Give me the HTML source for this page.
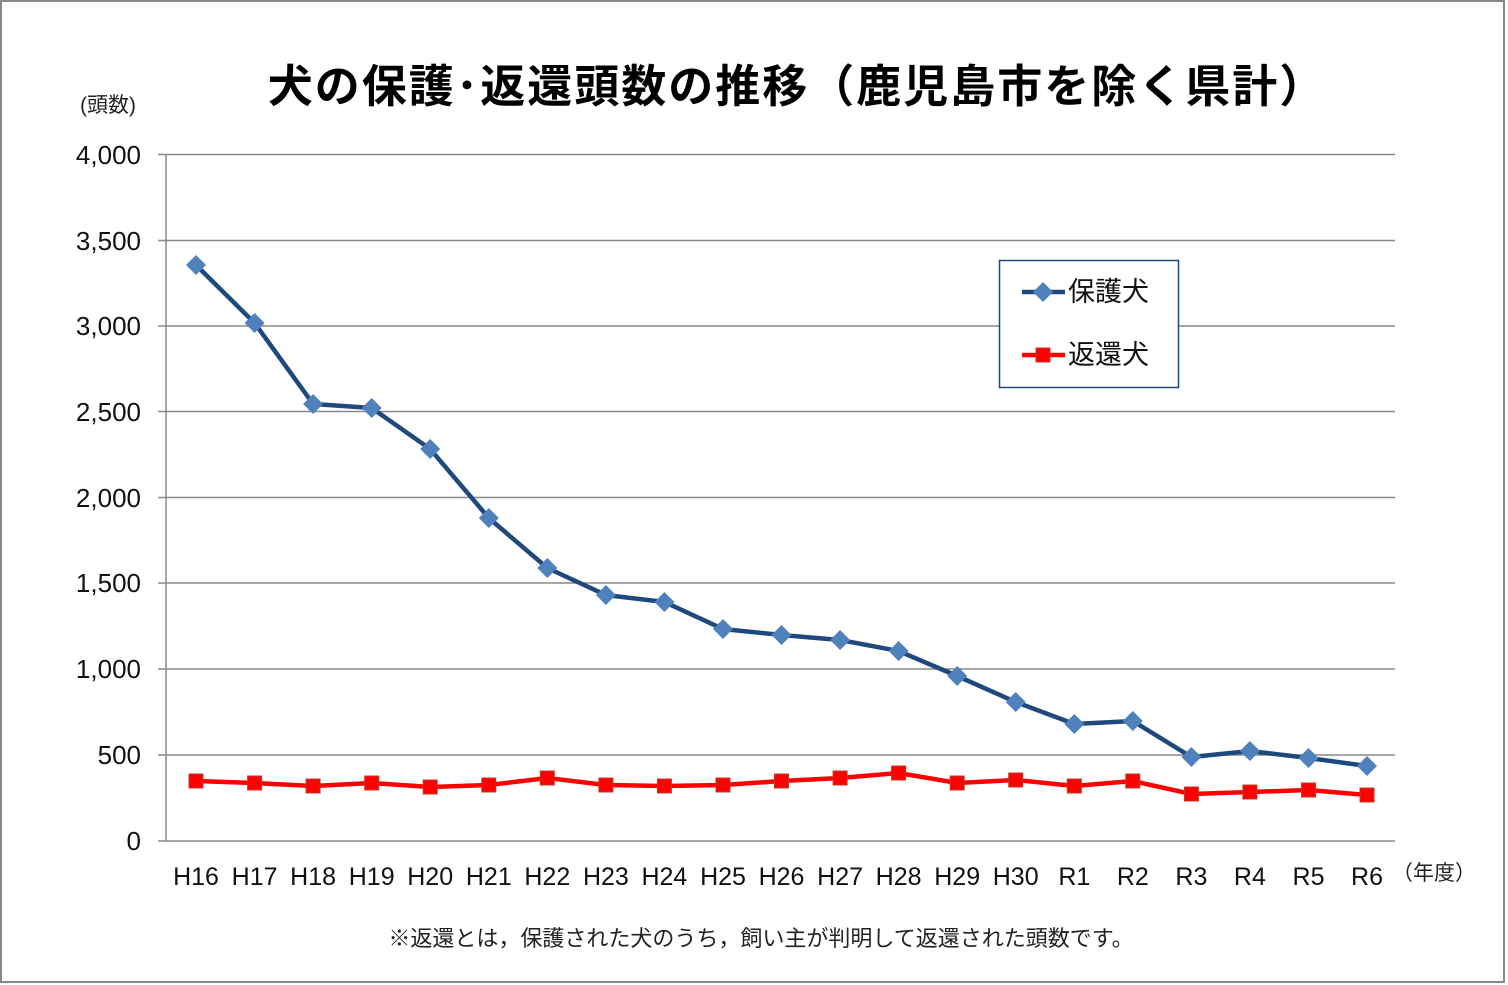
<!DOCTYPE html><html><head><meta charset="utf-8"><style>body{margin:0;background:#fff}svg{display:block}</style></head><body>
<svg width="1508" height="985" xmlns="http://www.w3.org/2000/svg" font-family="Liberation Sans, Noto Sans CJK JP, sans-serif">
<rect x="1" y="1" width="1503" height="981" fill="#fff" stroke="#888" stroke-width="2"/>
<text x="797" y="102" font-size="45" font-weight="bold" text-anchor="middle" letter-spacing="2" font-family="Noto Sans CJK JP, sans-serif">犬の保護･返還頭数の推移（鹿児島市を除く県計）</text>
<text x="108" y="112" font-size="21" text-anchor="middle" fill="#222">(頭数)</text>
<g stroke="#888" stroke-width="1.5">
<line x1="158" y1="154.5" x2="1395" y2="154.5"/><line x1="158" y1="240.5" x2="1395" y2="240.5"/><line x1="158" y1="326" x2="1395" y2="326"/><line x1="158" y1="411.5" x2="1395" y2="411.5"/><line x1="158" y1="497.5" x2="1395" y2="497.5"/><line x1="158" y1="583" x2="1395" y2="583"/><line x1="158" y1="669" x2="1395" y2="669"/><line x1="158" y1="755" x2="1395" y2="755"/><line x1="158" y1="841" x2="1395" y2="841"/><line x1="166" y1="154" x2="166" y2="841"/>
</g>
<g font-size="26" text-anchor="end" fill="#111">
<text x="141" y="164">4,000</text><text x="141" y="250">3,500</text><text x="141" y="335">3,000</text><text x="141" y="421">2,500</text><text x="141" y="507">2,000</text><text x="141" y="592">1,500</text><text x="141" y="678">1,000</text><text x="141" y="764">500</text><text x="141" y="850">0</text>
</g>
<g font-size="25" text-anchor="middle" fill="#111">
<text x="196" y="885">H16</text><text x="254.6" y="885">H17</text><text x="313.1" y="885">H18</text><text x="371.7" y="885">H19</text><text x="430.2" y="885">H20</text><text x="488.8" y="885">H21</text><text x="547.3" y="885">H22</text><text x="605.9" y="885">H23</text><text x="664.4" y="885">H24</text><text x="723" y="885">H25</text><text x="781.5" y="885">H26</text><text x="840.1" y="885">H27</text><text x="898.6" y="885">H28</text><text x="957.2" y="885">H29</text><text x="1015.7" y="885">H30</text><text x="1074.3" y="885">R1</text><text x="1132.8" y="885">R2</text><text x="1191.4" y="885">R3</text><text x="1249.9" y="885">R4</text><text x="1308.5" y="885">R5</text><text x="1367" y="885">R6</text>
</g>
<text x="1434" y="880" font-size="21" text-anchor="middle" fill="#222">（年度）</text>
<text x="761" y="946" font-size="22" text-anchor="middle" fill="#222">※返還とは，保護された犬のうち，飼い主が判明して返還された頭数です。</text>
<polyline fill="none" stroke="#1F497D" stroke-width="4.5" points="196,265 254.6,323 313.1,404 371.7,408 430.2,449 488.8,518 547.3,568 605.9,595 664.4,602 723,629 781.5,635 840.1,640 898.6,651 957.2,676 1015.7,702 1074.3,724 1132.8,721 1191.4,757 1249.9,751 1308.5,758 1367,766"/>
<g fill="#4F81BD">
<path d="M0,-10L10,0L0,10L-10,0Z" transform="translate(196,265)"/>
<path d="M0,-10L10,0L0,10L-10,0Z" transform="translate(254.6,323)"/><path d="M0,-10L10,0L0,10L-10,0Z" transform="translate(313.1,404)"/><path d="M0,-10L10,0L0,10L-10,0Z" transform="translate(371.7,408)"/><path d="M0,-10L10,0L0,10L-10,0Z" transform="translate(430.2,449)"/><path d="M0,-10L10,0L0,10L-10,0Z" transform="translate(488.8,518)"/><path d="M0,-10L10,0L0,10L-10,0Z" transform="translate(547.3,568)"/><path d="M0,-10L10,0L0,10L-10,0Z" transform="translate(605.9,595)"/><path d="M0,-10L10,0L0,10L-10,0Z" transform="translate(664.4,602)"/><path d="M0,-10L10,0L0,10L-10,0Z" transform="translate(723,629)"/><path d="M0,-10L10,0L0,10L-10,0Z" transform="translate(781.5,635)"/><path d="M0,-10L10,0L0,10L-10,0Z" transform="translate(840.1,640)"/><path d="M0,-10L10,0L0,10L-10,0Z" transform="translate(898.6,651)"/><path d="M0,-10L10,0L0,10L-10,0Z" transform="translate(957.2,676)"/><path d="M0,-10L10,0L0,10L-10,0Z" transform="translate(1015.7,702)"/><path d="M0,-10L10,0L0,10L-10,0Z" transform="translate(1074.3,724)"/><path d="M0,-10L10,0L0,10L-10,0Z" transform="translate(1132.8,721)"/><path d="M0,-10L10,0L0,10L-10,0Z" transform="translate(1191.4,757)"/><path d="M0,-10L10,0L0,10L-10,0Z" transform="translate(1249.9,751)"/><path d="M0,-10L10,0L0,10L-10,0Z" transform="translate(1308.5,758)"/><path d="M0,-10L10,0L0,10L-10,0Z" transform="translate(1367,766)"/>
</g>
<polyline fill="none" stroke="#FF0000" stroke-width="4.5" points="196,781 254.6,783 313.1,786 371.7,783 430.2,787 488.8,785 547.3,778 605.9,785 664.4,786 723,785 781.5,781 840.1,778 898.6,773 957.2,783 1015.7,780 1074.3,786 1132.8,781 1191.4,794 1249.9,792 1308.5,790 1367,795"/>
<g fill="#FF0000" stroke="#C0392B" stroke-width="1">
<rect x="189" y="774" width="14" height="14"/><rect x="247.6" y="776" width="14" height="14"/><rect x="306.1" y="779" width="14" height="14"/><rect x="364.7" y="776" width="14" height="14"/><rect x="423.2" y="780" width="14" height="14"/><rect x="481.8" y="778" width="14" height="14"/><rect x="540.3" y="771" width="14" height="14"/><rect x="598.9" y="778" width="14" height="14"/><rect x="657.4" y="779" width="14" height="14"/><rect x="716" y="778" width="14" height="14"/><rect x="774.5" y="774" width="14" height="14"/><rect x="833.1" y="771" width="14" height="14"/><rect x="891.6" y="766" width="14" height="14"/><rect x="950.2" y="776" width="14" height="14"/><rect x="1008.7" y="773" width="14" height="14"/><rect x="1067.3" y="779" width="14" height="14"/><rect x="1125.8" y="774" width="14" height="14"/><rect x="1184.4" y="787" width="14" height="14"/><rect x="1242.9" y="785" width="14" height="14"/><rect x="1301.5" y="783" width="14" height="14"/><rect x="1360" y="788" width="14" height="14"/>
</g>
<rect x="999.5" y="260.5" width="179" height="127" fill="#fff" stroke="#1F497D" stroke-width="1.5"/>
<line x1="1022" y1="292" x2="1065" y2="292" stroke="#1F497D" stroke-width="4.5"/>
<path d="M1043,282L1053,292L1043,302L1033,292Z" fill="#4F81BD"/>
<text x="1068" y="301" font-size="27" fill="#111">保護犬</text>
<line x1="1022" y1="355" x2="1065" y2="355" stroke="#FF0000" stroke-width="4.5"/>
<rect x="1036" y="348" width="14" height="14" fill="#FF0000" stroke="#C0392B"/>
<text x="1068" y="364" font-size="27" fill="#111">返還犬</text>
</svg>
</body></html>
